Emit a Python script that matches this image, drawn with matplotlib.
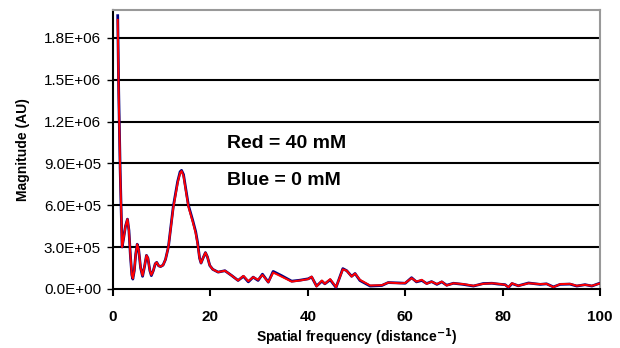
import matplotlib
matplotlib.use("Agg")
import matplotlib.pyplot as plt

plt.rcParams['font.family'] = ['Liberation Sans', 'DejaVu Sans']

# spatial frequency and magnitude (units of 1e5)
freq = [1.0, 1.2, 1.5, 1.9, 2.2, 2.6, 3.0, 3.3, 3.6, 3.9, 4.1, 4.4, 4.7, 5.0, 5.3, 5.7,
        6.1, 6.5, 6.9, 7.2, 7.6, 7.9, 8.3, 8.7, 9.0, 9.4, 9.8, 10.3, 10.8, 11.4, 12.4,
        13.3, 13.8, 14.1, 14.5, 15.0, 15.5, 16.4, 17.0, 17.4, 17.8, 18.1, 18.5, 19.0,
        19.4, 19.9, 20.5, 21.6, 23.0, 24.4, 25.7, 26.8, 27.8, 28.8, 29.8, 30.7, 31.9,
        32.9, 34.6, 36.7, 38.4, 40.1, 40.8, 41.8, 42.9, 43.5, 44.6, 45.8, 47.2, 48.0,
        49.0, 49.7, 50.7, 52.8, 55.2, 56.5, 58.9, 60.0, 61.3, 62.3, 63.4, 64.4, 65.4,
        66.5, 67.5, 68.5, 69.9, 71.9, 74.0, 76.0, 77.8, 79.1, 80.5, 81.2, 81.9, 83.2,
        85.3, 87.7, 89.0, 90.4, 91.8, 93.8, 95.2, 96.9, 98.3, 99.7, 100.0]
red = [19.3, 14.0, 8.5, 3.0, 3.6, 4.5, 5.0, 4.2, 2.4, 1.0, 0.75, 1.3, 2.5, 3.2, 2.8, 1.5,
       0.95, 1.6, 2.4, 2.2, 1.3, 1.0, 1.3, 1.8, 1.9, 1.65, 1.6, 1.7, 2.1, 3.0, 5.8,
       7.6, 8.3, 8.45, 8.1, 7.0, 5.9, 4.8, 4.0, 3.2, 2.2, 1.85, 2.2, 2.6,
       2.3, 1.67, 1.4, 1.2, 1.3, 0.95, 0.6, 0.93, 0.55, 0.84, 0.65, 1.0, 0.48,
       1.17, 0.88, 0.52, 0.6, 0.7, 0.88, 0.17, 0.6, 0.36, 0.7, 0.12, 1.4, 1.3,
       0.88, 1.1, 0.65, 0.24, 0.26, 0.45, 0.4, 0.42, 0.77, 0.52, 0.65, 0.36, 0.52,
       0.34, 0.52, 0.24, 0.4, 0.34, 0.22, 0.36, 0.4, 0.36, 0.29, 0.12, 0.4, 0.22,
       0.4, 0.34, 0.36, 0.12, 0.34, 0.36, 0.22, 0.29, 0.22, 0.36, 0.4]
blue = [19.6, 14.2, 8.6, 3.0, 3.6, 4.5, 5.0, 4.2, 2.4, 1.0, 0.7, 1.3, 2.5, 3.2, 2.8, 1.5,
        0.9, 1.6, 2.4, 2.2, 1.3, 0.95, 1.3, 1.8, 1.9, 1.65, 1.6, 1.7, 2.1, 3.0, 5.9,
        7.7, 8.4, 8.5, 8.2, 7.1, 6.0, 4.9, 4.1, 3.3, 2.2, 1.85, 2.2, 2.6,
        2.3, 1.67, 1.4, 1.2, 1.3, 0.95, 0.6, 0.9, 0.5, 0.84, 0.6, 1.05, 0.48,
        1.25, 0.95, 0.55, 0.62, 0.72, 0.85, 0.2, 0.55, 0.36, 0.65, 0.1, 1.45, 1.3,
        0.9, 1.1, 0.6, 0.2, 0.24, 0.45, 0.42, 0.4, 0.8, 0.5, 0.6, 0.38, 0.52,
        0.32, 0.5, 0.26, 0.4, 0.32, 0.2, 0.38, 0.4, 0.34, 0.3, 0.1, 0.38, 0.22,
        0.42, 0.32, 0.36, 0.14, 0.32, 0.34, 0.2, 0.3, 0.2, 0.38, 0.4]

yticks = [0, 3e5, 6e5, 9e5, 1.2e6, 1.5e6, 1.8e6]
ytick_labels = ['0.0E+00', '3.0E+05', '6.0E+05', '9.0E+05', '1.2E+06', '1.5E+06', '1.8E+06']

fig = plt.figure(figsize=(6.2, 3.48), dpi=100)
ax = fig.add_axes([0.182, 0.170, 0.786, 0.801])

for t in yticks[1:]:
    ax.axhline(t, color='black', lw=1.5, zorder=1)

ax.plot(freq, [v * 1e5 for v in blue], color='#000080', lw=2.0, zorder=3)
ax.plot(freq, [v * 1e5 for v in red], color='#ff0000', lw=1.4, zorder=4)

ax.set_xlim(0, 100)
ax.set_ylim(0, 2.0e6)
ax.set_xticks([0, 20, 40, 60, 80, 100])
ax.set_yticks(yticks)
ax.set_yticklabels(ytick_labels)
ax.tick_params(axis='x', direction='out', length=5, width=1.5, labelsize=11, pad=10)
ax.tick_params(axis='y', direction='out', length=4.5, width=1, labelsize=11, pad=4)
for lab in ax.get_xticklabels():
    lab.set_fontweight('bold')

ax.spines['left'].set_color('black')
ax.spines['left'].set_linewidth(1.5)
ax.spines['bottom'].set_color('black')
ax.spines['bottom'].set_linewidth(1.5)
ax.spines['top'].set_color('#999999')
ax.spines['right'].set_color('#999999')
ax.spines['top'].set_linewidth(1.5)
ax.spines['right'].set_linewidth(1.5)

ax.set_xlabel('Spatial frequency (distance$^{\\mathbf{-1}}$)', fontsize=10, fontweight='bold', labelpad=2)
ax.set_ylabel('Magnitude (AU)', fontsize=10, fontweight='bold', labelpad=10)

ax.text(23.4, 1.01e6, 'Red = 40 mM', fontsize=14, fontweight='bold', va='baseline')
ax.text(23.4, 0.747e6, 'Blue = 0 mM', fontsize=14, fontweight='bold', va='baseline')

fig.savefig('out.png', dpi=100)
